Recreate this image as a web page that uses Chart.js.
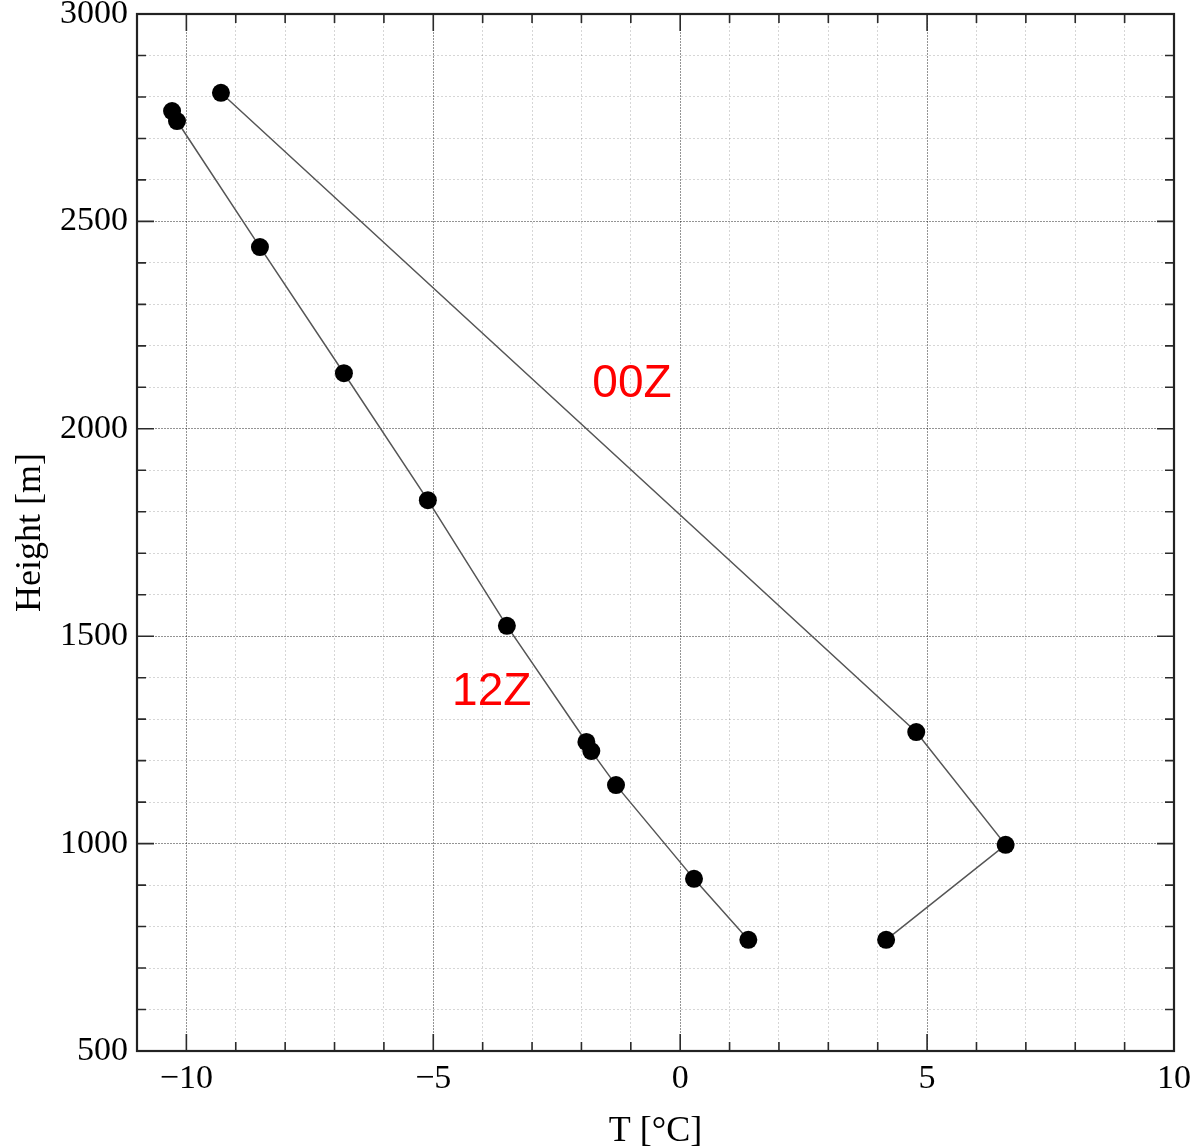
<!DOCTYPE html>
<html><head><meta charset="utf-8">
<script src="https://cdn.jsdelivr.net/npm/chart.js@4/dist/chart.umd.min.js"></script>
<style>html,body{margin:0;padding:0;background:#fff}#wrap{width:1193px;height:1148px}</style>
</head><body><div id="wrap"><canvas id="c" width="1193" height="1148"></canvas></div>
<script>
// ---- data ----
const temp12Z   = [-10.29, -10.19, -8.51, -6.81, -5.11, -3.51, -1.90, -1.80, -1.30, 0.28, 1.38];
const height12Z = [2766, 2742, 2438, 2134, 1828, 1525, 1245, 1223, 1141, 915, 768];
const temp00Z   = [-9.30, 4.78, 6.59, 4.17];
const height00Z = [2810, 1269, 997, 768];
const seriesNames = ['12Z', '00Z'];
const nameTemp   = [-4.62, -1.78];   // left edge of the in-plot labels
const nameHeight = [1334, 2077];     // baseline of the in-plot labels
const xMajorTicks = [-10, -5, 0, 5, 10];
const yMajorTicks = [500, 1000, 1500, 2000, 2500, 3000];
const xTitle = 'T [°C]';
const yTitle = 'Height [m]';

const toPts = (xs, ys) => xs.map((x, i) => ({x: x, y: ys[i]}));
const isMajorX = v => xMajorTicks.includes(Math.round(v * 1000) / 1000);
const isMajorY = v => yMajorTicks.includes(Math.round(v));
const fmt = v => (v < 0 ? '\u2212' + Math.abs(v) : String(v));

const serif = '"Liberation Serif", "DejaVu Serif", serif';

const framePlugin = {
  id: 'frameTicks',
  afterDraw(chart) {
    const {ctx, chartArea: a, scales} = chart;
    const xs = scales.x, ys = scales.y;
    ctx.save();
    ctx.strokeStyle = '#2a2a2a';
    ctx.lineWidth = 1.6;
    xs.ticks.forEach(t => {
      const p = xs.getPixelForValue(t.value);
      const len = isMajorX(t.value) ? 17 : 9;
      ctx.beginPath();
      ctx.moveTo(p, a.bottom); ctx.lineTo(p, a.bottom - len);
      ctx.moveTo(p, a.top); ctx.lineTo(p, a.top + len);
      ctx.stroke();
    });
    ys.ticks.forEach(t => {
      const p = ys.getPixelForValue(t.value);
      const len = isMajorY(t.value) ? 17 : 9;
      ctx.beginPath();
      ctx.moveTo(a.left, p); ctx.lineTo(a.left + len, p);
      ctx.moveTo(a.right, p); ctx.lineTo(a.right - len, p);
      ctx.stroke();
    });
    ctx.lineWidth = 2.2;
    ctx.strokeStyle = '#222';
    ctx.strokeRect(a.left, a.top, a.right - a.left, a.bottom - a.top);
    // in-plot series names
    ctx.fillStyle = '#ff0000';
    ctx.font = '46px "Liberation Sans", Arial, sans-serif';
    ctx.textAlign = 'left';
    ctx.textBaseline = 'alphabetic';
    seriesNames.forEach((n, i) => {
      ctx.fillText(n, xs.getPixelForValue(nameTemp[i]), ys.getPixelForValue(nameHeight[i]));
    });
    ctx.restore();
  }
};

const gridColor = ctx => {
  const v = ctx.tick ? ctx.tick.value : 0;
  const major = ctx.scale.axis === 'x' ? isMajorX(v) : isMajorY(v);
  return major ? 'rgba(0,0,0,0.42)' : 'rgba(0,0,0,0.16)';
};
const gridDash = ctx => {
  const v = ctx.tick ? ctx.tick.value : 0;
  const major = ctx.scale.axis === 'x' ? isMajorX(v) : isMajorY(v);
  return major ? [2, 1] : [2, 2];
};

new Chart(document.getElementById('c'), {
  type: 'scatter',
  data: {
    datasets: [
      { label: seriesNames[0], data: toPts(temp12Z, height12Z), showLine: true,
        borderColor: '#555', borderWidth: 1.5, pointRadius: 9, pointBackgroundColor: '#000',
        pointBorderWidth: 0, pointHoverRadius: 9 },
      { label: seriesNames[1], data: toPts(temp00Z, height00Z), showLine: true,
        borderColor: '#555', borderWidth: 1.5, pointRadius: 9, pointBackgroundColor: '#000',
        pointBorderWidth: 0, pointHoverRadius: 9 }
    ]
  },
  options: {
    responsive: false,
    animation: false,
    devicePixelRatio: 1,
    layout: { padding: { left: 0, right: 19, top: 14, bottom: 0 } },
    plugins: { legend: { display: false }, tooltip: { enabled: false } },
    scales: {
      x: {
        type: 'linear', min: -11, max: 10,
        afterFit: s => { s.height = 97; s.paddingLeft = 0; s.paddingRight = 0; },
        ticks: { stepSize: 1, autoSkip: false, maxRotation: 0, padding: 8, color: '#000',
                 font: { family: serif, size: 34 },
                 callback: v => (isMajorX(v) ? fmt(v) : '') },
        grid: { drawTicks: false, lineWidth: 1, color: gridColor, borderDash: gridDash },
        border: { display: false, dash: gridDash },
        title: { display: true, text: xTitle, color: '#000',
                 font: { family: serif, size: 36, lineHeight: 1 }, padding: { top: 0, bottom: -2 } }
      },
      y: {
        type: 'linear', min: 500, max: 3000,
        afterFit: s => { s.width = 137; s.paddingTop = 0; s.paddingBottom = 0; },
        ticks: { stepSize: 100, autoSkip: false, padding: 9, color: '#000',
                 font: { family: serif, size: 34 },
                 callback: v => (isMajorY(v) ? String(v) : '') },
        grid: { drawTicks: false, lineWidth: 1, color: gridColor, borderDash: gridDash },
        border: { display: false, dash: gridDash },
        title: { display: true, text: yTitle, color: '#000',
                 font: { family: serif, size: 36, lineHeight: 1 }, padding: { top: 13, bottom: 0 } }
      }
    }
  },
  plugins: [framePlugin]
});
</script></body></html>
